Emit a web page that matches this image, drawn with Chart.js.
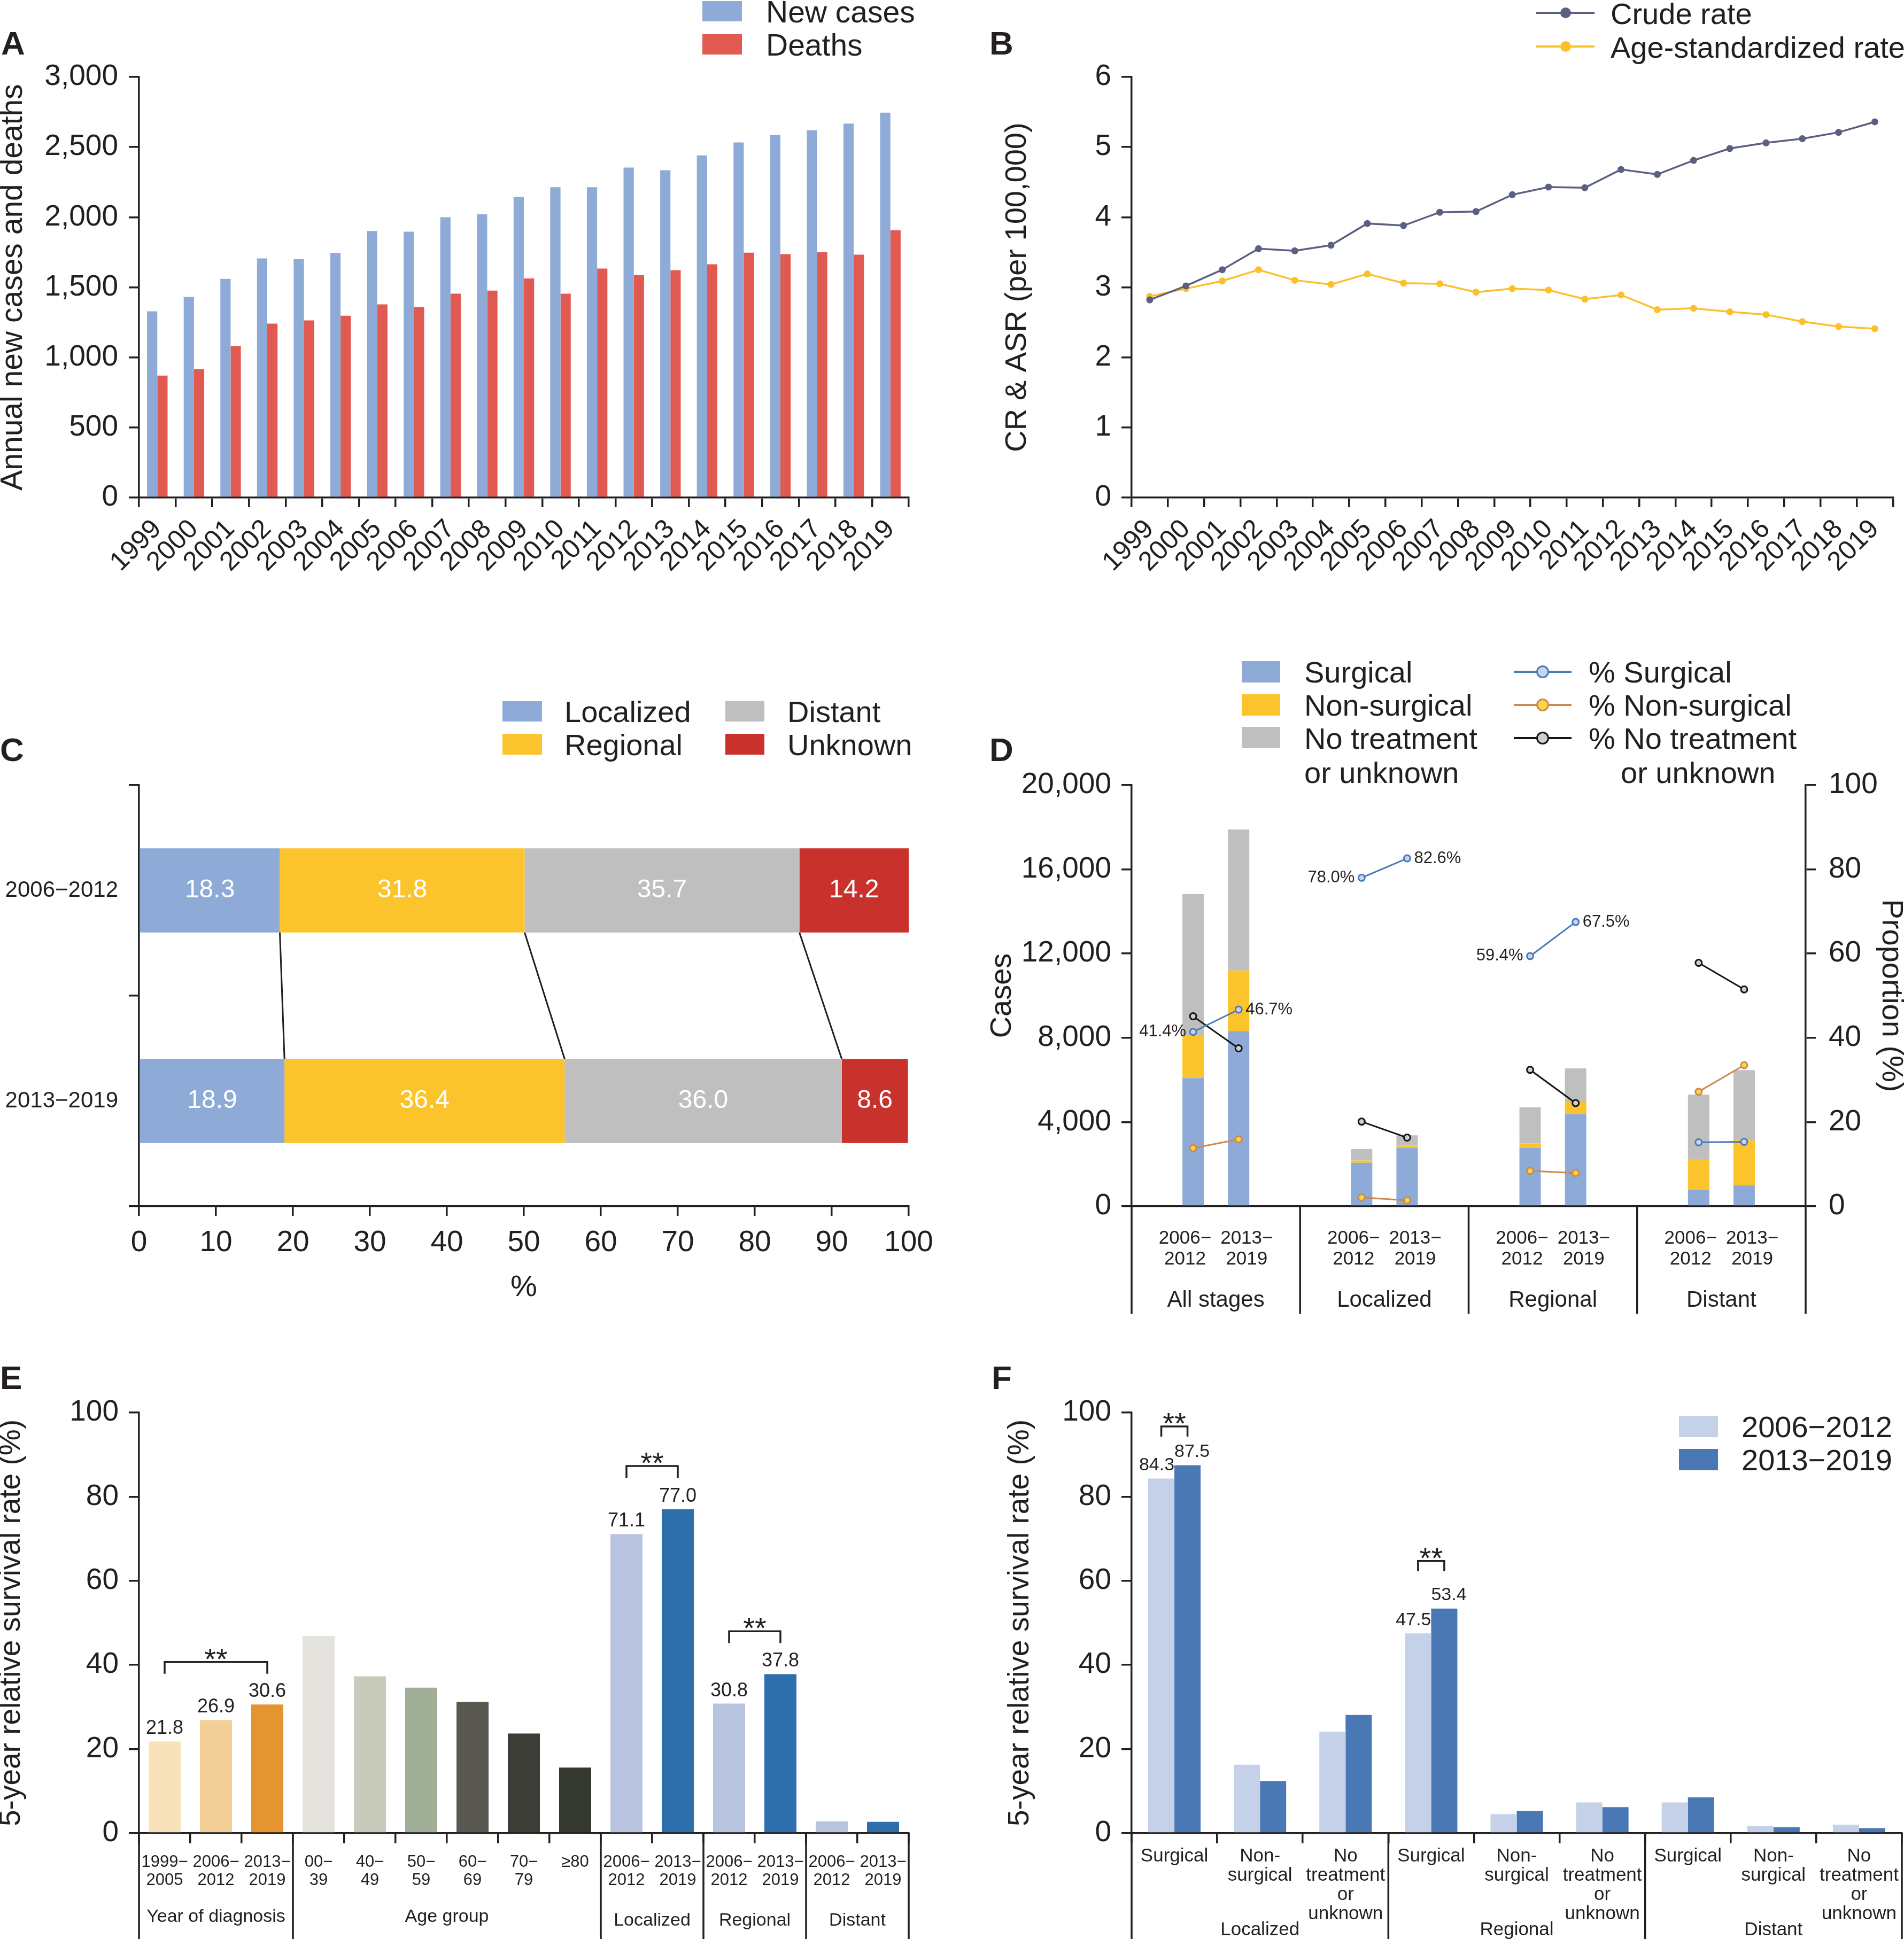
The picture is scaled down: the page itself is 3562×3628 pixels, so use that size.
<!DOCTYPE html>
<html>
<head>
<meta charset="utf-8">
<title>Incidence, mortality, stage, treatment and survival</title>
<script src="https://cdn.jsdelivr.net/npm/chart.js@4.4.1/dist/chart.umd.min.js"></script>
<style>
  html, body { margin: 0; padding: 0; background: #fff; }
  #page { position: relative; width: 3562px; height: 3628px; overflow: hidden;
          font-family: 'Liberation Sans', Arial, sans-serif; color: #231f20; }
  #page canvas { position: absolute; }
  .t { position: absolute; white-space: pre; }
  .k { position: absolute; box-sizing: border-box; }
</style>
</head>
<body>
<div id="page">
  <canvas id="cA" width="1781" height="1150" style="left:0;top:0"></canvas>
  <canvas id="cB" width="1781" height="1150" style="left:1781px;top:0"></canvas>
  <canvas id="cC" width="1781" height="1300" style="left:0;top:1150px"></canvas>
  <canvas id="cD" width="1781" height="1320" style="left:1781px;top:1150px"></canvas>
  <canvas id="cE" width="1781" height="1158" style="left:0;top:2470px"></canvas>
  <canvas id="cF" width="1781" height="1158" style="left:1781px;top:2470px"></canvas>
</div>
<script>
"use strict";

// ---- data ----
const years = ['1999', '2000', '2001', '2002', '2003', '2004', '2005', '2006', '2007', '2008', '2009',
  '2010', '2011', '2012', '2013', '2014', '2015', '2016', '2017', '2018', '2019'];
const newCases = [1328, 1431, 1560, 1706, 1700, 1745, 1901, 1896, 1999, 2021, 2144,
  2214, 2214, 2354, 2335, 2441, 2533, 2586, 2620, 2667, 2746];
const deaths = [870, 917, 1082, 1241, 1264, 1297, 1378, 1359, 1454, 1476, 1563,
  1454, 1633, 1588, 1622, 1664, 1747, 1736, 1750, 1733, 1907];
const crudeRate = [2.82, 3.02, 3.25, 3.55, 3.52, 3.60, 3.91, 3.88, 4.07, 4.08, 4.32,
  4.43, 4.42, 4.68, 4.61, 4.81, 4.98, 5.06, 5.12, 5.21, 5.36];
const asRate = [2.87, 2.98, 3.09, 3.25, 3.10, 3.04, 3.19, 3.06, 3.05, 2.93, 2.98,
  2.96, 2.83, 2.89, 2.68, 2.70, 2.65, 2.61, 2.51, 2.44, 2.41];

const periods = ['2006−2012', '2013−2019'];
const localizedShare = [18.3, 18.9];
const regionalShare = [31.8, 36.4];
const distantShare = [35.7, 36.0];
const unknownShare = [14.2, 8.6];

const stageGroups = ['All stages', 'Localized', 'Regional', 'Distant'];
const surgical0612 = [6084, 2063, 2779, 779];
const nonSurgical0612 = [2063, 105, 210, 1453];
const noTreatment0612 = [6674, 548, 1706, 3073];
const surgical1319 = [8316, 2779, 4379, 989];
const nonSurgical1319 = [2884, 105, 568, 2148];
const noTreatment1319 = [6695, 484, 1600, 3326];
const pctSurg0612 = [41.4, 78.0, 59.4, 15.2];
const pctSurg1319 = [46.7, 82.6, 67.5, 15.3];
const pctNon0612 = [13.8, 2.1, 8.4, 27.2];
const pctNon1319 = [15.9, 1.4, 7.9, 33.5];
const pctNo0612 = [45.1, 20.1, 32.4, 57.8];
const pctNo1319 = [37.5, 16.3, 24.5, 51.5];
const labeledGroupsD = [0, 1, 2];

const survLabelsE = [['1999−', '2005'], ['2006−', '2012'], ['2013−', '2019'],
  ['00−', '39'], ['40−', '49'], ['50−', '59'], ['60−', '69'], ['70−', '79'], ['≥80'],
  ['2006−', '2012'], ['2013−', '2019'], ['2006−', '2012'], ['2013−', '2019'], ['2006−', '2012'], ['2013−', '2019']];
const survRateE = [21.8, 26.9, 30.6, 46.9, 37.3, 34.6, 31.2, 23.7, 15.6, 71.1, 77.0, 30.8, 37.8, 2.8, 2.7];
const groupNamesE = ['Year of diagnosis', 'Age group', 'Localized', 'Regional', 'Distant'];
const groupEdgesE = [0, 3, 9, 11, 13, 15];
const labeledE = [0, 1, 2, 9, 10, 11, 12];
const sigE = [[0, 2, 40.7], [9, 10, 87.3], [11, 12, 48.0]];

const treatLabels = [['Surgical'], ['Non-', 'surgical'], ['No', 'treatment', 'or', 'unknown'],
  ['Surgical'], ['Non-', 'surgical'], ['No', 'treatment', 'or', 'unknown'],
  ['Surgical'], ['Non-', 'surgical'], ['No', 'treatment', 'or', 'unknown']];
const surv0612F = [84.3, 16.3, 24.1, 47.5, 4.5, 7.3, 7.3, 1.7, 2.0];
const surv1319F = [87.5, 12.4, 28.1, 53.4, 5.3, 6.2, 8.5, 1.4, 1.2];
const groupNamesF = ['Localized', 'Regional', 'Distant'];
const groupEdgesF = [0, 3, 6, 9];
const labeledF = [0, 3];
const sigF = [[0, 96.7], [3, 64.7]];

// ---- style ----
const FONT = "'Liberation Sans', Arial, sans-serif";
const INK = '#231f20';
const LW = 3.5;
const BLUE = '#8eaad6', RED = '#e05a52', YELLOW = '#fcc42c', GRAY = '#bfbfbf', DARKRED = '#c8312c';
const NAVY = '#5b5f82', GOLD = '#fcc12a';
const colorsE = ['#f7e2ba', '#f3cf98', '#e49431', '#e5e3dd', '#c8cbbb', '#a1ae98', '#585850', '#3b3d36', '#363832',
  '#b8c3df', '#2f6eac', '#b8c3df', '#2f6eac', '#b8c3df', '#2f6eac'];
const LIGHT_F = '#c5d0e9', DARK_F = '#4a78b5';

Chart.defaults.font.family = FONT;
Chart.defaults.color = INK;

const bord = () => ({ display: true, color: INK, width: LW });
const ticksOnly = (len, offset) => ({ display: true, drawOnChartArea: false, drawTicks: true,
  tickLength: len, color: INK, lineWidth: LW, offset: !!offset });
const fixW = w => s => { s.width = w; };
const fixH = h => s => { s.height = h; };
const axisTitle = (text, size, pad) => ({ display: true, text, color: INK,
  font: { size, lineHeight: 0.8 }, padding: { top: pad, bottom: pad } });
const common = { responsive: false, animation: false, devicePixelRatio: 1, events: [],
  plugins: { legend: { display: false }, tooltip: { enabled: false } } };
const thousands = v => v.toLocaleString('en-US');
const yearTicks = { font: { size: 50 }, color: INK, minRotation: 45, maxRotation: 45, autoSkip: false, padding: 12 };

function drawSig(ctx, x1, x2, y, leg) {
  ctx.beginPath();
  ctx.moveTo(x1, y + leg); ctx.lineTo(x1, y); ctx.lineTo(x2, y); ctx.lineTo(x2, y + leg);
  ctx.stroke();
  ctx.save();
  ctx.font = `56px ${FONT}`; ctx.textAlign = 'center'; ctx.textBaseline = 'alphabetic';
  ctx.fillText('**', (x1 + x2) / 2, y + 13);
  ctx.restore();
}

// ---- A: new cases and deaths ----
new Chart(document.getElementById('cA'), {
  type: 'bar',
  data: {
    labels: years,
    datasets: [
      { label: 'New cases', data: newCases, backgroundColor: BLUE, categoryPercentage: 0.56, barPercentage: 1 },
      { label: 'Deaths', data: deaths, backgroundColor: RED, categoryPercentage: 0.56, barPercentage: 1 }
    ]
  },
  options: {
    ...common,
    layout: { padding: { top: 144, right: 81, bottom: 0, left: 0 } },
    scales: {
      x: { grid: ticksOnly(18, true), border: bord(), ticks: yearTicks, afterFit: fixH(219) },
      y: { min: 0, max: 3000, grid: ticksOnly(19), border: bord(),
        ticks: { stepSize: 500, font: { size: 55 }, color: INK, padding: 20, callback: thousands },
        title: axisTitle('Annual new cases and deaths', 57, 2), afterFit: fixW(260) }
    }
  }
});

// ---- B: crude and age-standardized rate ----
const lineStyle = c => ({ borderColor: c, backgroundColor: c, pointBackgroundColor: c, borderWidth: 3.5,
  pointRadius: 6.5, pointBorderWidth: 0 });
new Chart(document.getElementById('cB'), {
  type: 'line',
  data: {
    labels: years,
    datasets: [
      { label: 'Crude rate', data: crudeRate, ...lineStyle(NAVY) },
      { label: 'Age-standardized rate', data: asRate, ...lineStyle(GOLD) }
    ]
  },
  options: {
    ...common,
    layout: { padding: { top: 144, right: 6, bottom: 0, left: 0 } },
    scales: {
      x: { offset: true, grid: ticksOnly(18, true), border: bord(), ticks: yearTicks, afterFit: fixH(219) },
      y: { min: 0, max: 6, grid: ticksOnly(19), border: bord(),
        ticks: { stepSize: 1, font: { size: 55 }, color: INK, padding: 19 },
        title: axisTitle('CR & ASR (per 100,000)', 56, 100), afterFit: fixW(336) }
    }
  }
});

// ---- C: stage distribution ----
const stageLabelsC = {
  id: 'stageLabelsC',
  afterDatasetsDraw(chart) {
    const { ctx } = chart;
    const xs = chart.scales.x;
    ctx.save();
    ctx.font = `48px ${FONT}`; ctx.fillStyle = '#fff';
    ctx.textAlign = 'center'; ctx.textBaseline = 'middle';
    chart.data.datasets.forEach((ds, i) => {
      chart.getDatasetMeta(i).data.forEach((el, j) => {
        ctx.fillText(ds.data[j].toFixed(1), (el.x + el.base) / 2, el.y);
      });
    });
    const m = chart.getDatasetMeta(0).data;
    let c0 = 0, c1 = 0;
    ctx.strokeStyle = INK; ctx.lineWidth = 3;
    for (let k = 0; k < chart.data.datasets.length - 1; k++) {
      c0 += chart.data.datasets[k].data[0];
      c1 += chart.data.datasets[k].data[1];
      ctx.beginPath();
      ctx.moveTo(xs.getPixelForValue(c0), m[0].y + m[0].height / 2);
      ctx.lineTo(xs.getPixelForValue(c1), m[1].y - m[1].height / 2);
      ctx.stroke();
    }
    ctx.restore();
  }
};
new Chart(document.getElementById('cC'), {
  type: 'bar',
  data: {
    labels: periods,
    datasets: [
      { label: 'Localized', data: localizedShare, backgroundColor: BLUE },
      { label: 'Regional', data: regionalShare, backgroundColor: YELLOW },
      { label: 'Distant', data: distantShare, backgroundColor: GRAY },
      { label: 'Unknown', data: unknownShare, backgroundColor: DARKRED }
    ].map(d => ({ ...d, categoryPercentage: 0.4, barPercentage: 1 }))
  },
  options: {
    ...common,
    indexAxis: 'y',
    layout: { padding: { top: 319, right: 81, bottom: 0, left: 0 } },
    scales: {
      x: { stacked: true, min: 0, max: 100, grid: ticksOnly(18), border: bord(),
        ticks: { stepSize: 10, font: { size: 55 }, color: INK, padding: 18 },
        title: axisTitle('%', 56, 18), afterFit: fixH(193) },
      y: { stacked: true, grid: ticksOnly(19, true), border: bord(),
        ticks: { font: { size: 42 }, color: INK, padding: 20 }, afterFit: fixW(260) }
    }
  },
  plugins: [stageLabelsC]
});

// ---- D: treatment by stage ----
// each stage group spans one unit of a linear x axis; the two periods sit either side of its centre
const sideD = 0.135;
const labelSideD = 0.183;
const periodX = (i, k, side) => i + 0.5 + (k ? side : -side);
const barPoints = (a, b) => a.flatMap((v, i) => [{ x: periodX(i, 0, sideD), y: v }, { x: periodX(i, 1, sideD), y: b[i] }]);
const linePoints = (a, b) => a.flatMap((v, i) => [{ x: periodX(i, 0, sideD), y: v }, { x: periodX(i, 1, sideD), y: b[i] },
  { x: i + 1, y: null }]);
const pctLine = (label, a, b, c, fill) => ({ type: 'line', label, data: linePoints(a, b), yAxisID: 'y1',
  borderColor: c, borderWidth: 3, pointRadius: 6, pointBorderWidth: 3, pointBackgroundColor: fill,
  pointBorderColor: c, spanGaps: false, order: 0 });
const stackBar = (label, data, c) => ({ label, data, backgroundColor: c,
  categoryPercentage: 1, barPercentage: 0.47, order: 1 });

const plugD = {
  id: 'plugD',
  afterDraw(chart) {
    const { ctx, chartArea: a } = chart;
    const xs = chart.scales.x;
    const w = (a.right - a.left) / stageGroups.length;
    ctx.save();
    ctx.strokeStyle = INK; ctx.lineWidth = LW; ctx.fillStyle = INK;
    for (let i = 0; i <= stageGroups.length; i++) {
      const x = a.left + i * w;
      ctx.beginPath(); ctx.moveTo(x, a.bottom); ctx.lineTo(x, 1308); ctx.stroke();
    }
    ctx.textAlign = 'center'; ctx.textBaseline = 'middle';
    stageGroups.forEach((g, i) => {
      ctx.font = `35px ${FONT}`;
      periods.forEach((p, k) => {
        const [from, to] = p.split('−');
        const x = xs.getPixelForValue(periodX(i, k, labelSideD));
        ctx.fillText(from + '−', x, 1167);
        ctx.fillText(to, x, 1206);
      });
      ctx.font = `42px ${FONT}`;
      ctx.fillText(g, xs.getPixelForValue(i + 0.5), 1283);
    });
    const pts = chart.getDatasetMeta(0).data;
    ctx.font = `31px ${FONT}`;
    labeledGroupsD.forEach(i => {
      const p1 = pts[3 * i], p2 = pts[3 * i + 1];
      ctx.textAlign = 'right'; ctx.fillText(pctSurg0612[i].toFixed(1) + '%', p1.x - 13, p1.y);
      ctx.textAlign = 'left'; ctx.fillText(pctSurg1319[i].toFixed(1) + '%', p2.x + 13, p2.y);
    });
    ctx.restore();
  }
};
new Chart(document.getElementById('cD'), {
  type: 'bar',
  data: {
    datasets: [
      pctLine('% Surgical', pctSurg0612, pctSurg1319, '#4a7ab8', '#c9d5ee'),
      pctLine('% Non-surgical', pctNon0612, pctNon1319, '#cc8a4e', '#fdd347'),
      pctLine('% No treatment or unknown', pctNo0612, pctNo1319, '#151515', '#cfcfcf'),
      stackBar('Surgical', barPoints(surgical0612, surgical1319), BLUE),
      stackBar('Non-surgical', barPoints(nonSurgical0612, nonSurgical1319), YELLOW),
      stackBar('No treatment or unknown', barPoints(noTreatment0612, noTreatment1319), GRAY)
    ]
  },
  options: {
    ...common,
    layout: { padding: { top: 319, right: 0, bottom: 0, left: 0 } },
    scales: {
      x: { type: 'linear', stacked: true, offset: false, min: 0, max: stageGroups.length,
        grid: { display: false }, border: bord(), ticks: { display: false, stepSize: 1 }, afterFit: fixH(213) },
      y: { stacked: true, min: 0, max: 20000, grid: ticksOnly(19), border: bord(),
        ticks: { stepSize: 4000, font: { size: 55 }, color: INK, padding: 19, callback: thousands },
        title: axisTitle('Cases', 56, 72), afterFit: fixW(336) },
      y1: { position: 'right', min: 0, max: 100, grid: ticksOnly(19), border: bord(),
        ticks: { stepSize: 20, font: { size: 55 }, color: INK, padding: 24 },
        title: axisTitle('Proportion (%)', 56, 2), afterFit: fixW(184) }
    }
  },
  plugins: [plugD]
});

// ---- E: survival by year, age and stage ----
const plugE = {
  id: 'plugE',
  afterDraw(chart) {
    const { ctx, chartArea: a } = chart;
    const ys = chart.scales.y;
    const bars = chart.getDatasetMeta(0).data;
    const w = (a.right - a.left) / survRateE.length;
    ctx.save();
    ctx.fillStyle = INK; ctx.strokeStyle = INK; ctx.lineWidth = LW;
    ctx.font = `36px ${FONT}`; ctx.textAlign = 'center'; ctx.textBaseline = 'middle';
    labeledE.forEach(i => ctx.fillText(survRateE[i].toFixed(1), bars[i].x, bars[i].y - 24));
    sigE.forEach(([i, j, v]) => drawSig(ctx, bars[i].x, bars[j].x, ys.getPixelForValue(v), 22));
    groupEdgesE.forEach(b => {
      const x = a.left + b * w;
      ctx.beginPath(); ctx.moveTo(x, a.bottom); ctx.lineTo(x, chart.height); ctx.stroke();
    });
    ctx.font = `34px ${FONT}`;
    groupNamesE.forEach((g, k) => {
      const cx = a.left + (groupEdgesE[k] + groupEdgesE[k + 1]) / 2 * w;
      ctx.fillText(g, cx, k < 2 ? 1117 : 1124);
    });
    ctx.restore();
  }
};
new Chart(document.getElementById('cE'), {
  type: 'bar',
  data: {
    labels: survLabelsE,
    datasets: [{ label: '5-year relative survival', data: survRateE, backgroundColor: colorsE,
      categoryPercentage: 0.625, barPercentage: 1 }]
  },
  options: {
    ...common,
    layout: { padding: { top: 173, right: 81, bottom: 0, left: 0 } },
    scales: {
      x: { grid: ticksOnly(19, true), border: bord(),
        ticks: { font: { size: 31, lineHeight: 1.1 }, color: INK, padding: 18, autoSkip: false, maxRotation: 0 },
        afterFit: fixH(198) },
      y: { min: 0, max: 100, grid: ticksOnly(19), border: bord(),
        ticks: { stepSize: 20, font: { size: 55 }, color: INK, padding: 19 },
        title: axisTitle('5-year relative survival rate (%)', 55, 0), afterFit: fixW(260) }
    }
  },
  plugins: [plugE]
});

// ---- F: survival by stage and treatment ----
const plugF = {
  id: 'plugF',
  afterDraw(chart) {
    const { ctx, chartArea: a } = chart;
    const ys = chart.scales.y;
    const m0 = chart.getDatasetMeta(0).data, m1 = chart.getDatasetMeta(1).data;
    const w = (a.right - a.left) / treatLabels.length;
    ctx.save();
    ctx.fillStyle = INK; ctx.strokeStyle = INK; ctx.lineWidth = LW;
    ctx.font = `34px ${FONT}`; ctx.textBaseline = 'middle';
    labeledF.forEach(i => {
      ctx.textAlign = 'right'; ctx.fillText(surv0612F[i].toFixed(1), m0[i].x + m0[i].width / 2, m0[i].y - 25);
      ctx.textAlign = 'left'; ctx.fillText(surv1319F[i].toFixed(1), m1[i].x - m1[i].width / 2, m1[i].y - 25);
    });
    sigF.forEach(([i, v]) => drawSig(ctx, m0[i].x, m1[i].x, ys.getPixelForValue(v), 19));
    groupEdgesF.forEach(b => {
      const x = a.left + b * w;
      ctx.beginPath(); ctx.moveTo(x, a.bottom); ctx.lineTo(x, chart.height); ctx.stroke();
    });
    ctx.textAlign = 'center'; ctx.font = `35px ${FONT}`;
    groupNamesF.forEach((g, k) => {
      ctx.fillText(g, a.left + (groupEdgesF[k] + groupEdgesF[k + 1]) / 2 * w, 1141);
    });
    ctx.restore();
  }
};
new Chart(document.getElementById('cF'), {
  type: 'bar',
  data: {
    labels: treatLabels,
    datasets: [
      { label: periods[0], data: surv0612F, backgroundColor: LIGHT_F, categoryPercentage: 0.6125, barPercentage: 1 },
      { label: periods[1], data: surv1319F, backgroundColor: DARK_F, categoryPercentage: 0.6125, barPercentage: 1 }
    ]
  },
  options: {
    ...common,
    layout: { padding: { top: 173, right: 4, bottom: 0, left: 0 } },
    scales: {
      x: { grid: ticksOnly(19, true), border: bord(),
        ticks: { font: { size: 35, lineHeight: 1.03 }, color: INK, padding: 6, autoSkip: false, maxRotation: 0 },
        afterFit: fixH(198) },
      y: { min: 0, max: 100, grid: ticksOnly(19), border: bord(),
        ticks: { stepSize: 20, font: { size: 55 }, color: INK, padding: 19 },
        title: axisTitle('5-year relative survival rate (%)', 55, 106), afterFit: fixW(336) }
    }
  },
  plugins: [plugF]
});

// ---- legends and panel letters ----
const page = document.getElementById('page');
function put(x, cy, str, size, weight) {
  const d = document.createElement('div');
  d.className = 't';
  d.textContent = str;
  d.style.left = x + 'px';
  d.style.top = (cy - 0.4885 * size) + 'px';
  d.style.fontSize = size + 'px';
  d.style.lineHeight = size + 'px';
  if (weight) d.style.fontWeight = weight;
  page.appendChild(d);
}
function box(x, y, w, h, c) {
  const d = document.createElement('div');
  d.className = 'k';
  Object.assign(d.style, { left: x + 'px', top: y + 'px', width: w + 'px', height: h + 'px', background: c });
  page.appendChild(d);
}
function lineKey(x1, x2, cy, c, lw, fill, r, bw) {
  box(x1, cy - lw / 2, x2 - x1, lw, c);
  const d = document.createElement('div');
  d.className = 'k';
  const cx = (x1 + x2) / 2;
  Object.assign(d.style, { left: (cx - r) + 'px', top: (cy - r) + 'px', width: 2 * r + 'px', height: 2 * r + 'px',
    borderRadius: '50%', background: fill, border: bw ? `${bw}px solid ${c}` : 'none' });
  page.appendChild(d);
}

[['A', 2, 80], ['B', 1851, 80], ['C', 0, 1402], ['D', 1851, 1402], ['E', 0, 2577], ['F', 1855, 2577]]
  .forEach(([s, x, y]) => put(x, y, s, 62, 'bold'));

// A
box(1314, 2, 74, 38, BLUE); put(1433, 22, 'New cases', 57);
box(1314, 64, 74, 38, RED); put(1433, 84, 'Deaths', 57);
// B
lineKey(2874, 2983, 24, NAVY, 4, NAVY, 10, 0); put(3013, 25, 'Crude rate', 56);
lineKey(2874, 2983, 87, GOLD, 4, GOLD, 10, 0); put(3013, 88, 'Age-standardized rate', 56);
// C
box(940, 1312, 74, 38, BLUE); put(1056, 1331, 'Localized', 56);
box(940, 1373, 74, 39, YELLOW); put(1056, 1393, 'Regional', 56);
box(1357, 1312, 73, 38, GRAY); put(1473, 1331, 'Distant', 56);
box(1357, 1373, 73, 39, DARKRED); put(1473, 1393, 'Unknown', 56);
// D
box(2323, 1237, 72, 40, BLUE); put(2440, 1257, 'Surgical', 56);
box(2323, 1299, 72, 40, YELLOW); put(2440, 1319, 'Non-surgical', 56);
box(2323, 1360, 72, 40, GRAY); put(2440, 1381, 'No treatment', 56);
put(2440, 1445, 'or unknown', 56);
lineKey(2832, 2940, 1257, '#4a7ab8', 3.5, '#c9d5ee', 12, 3); put(2972, 1257, '% Surgical', 56);
lineKey(2832, 2940, 1319, '#cc8a4e', 3.5, '#fdd347', 12, 3); put(2972, 1319, '% Non-surgical', 56);
lineKey(2832, 2940, 1381, '#151515', 3.5, '#cfcfcf', 12, 3); put(2972, 1381, '% No treatment', 56);
put(3032, 1445, 'or unknown', 56);
// F
box(3141, 2649, 73, 40, LIGHT_F); put(3258, 2669, periods[0], 56);
box(3141, 2711, 73, 40, DARK_F); put(3258, 2731, periods[1], 56);
</script>
</body>
</html>
